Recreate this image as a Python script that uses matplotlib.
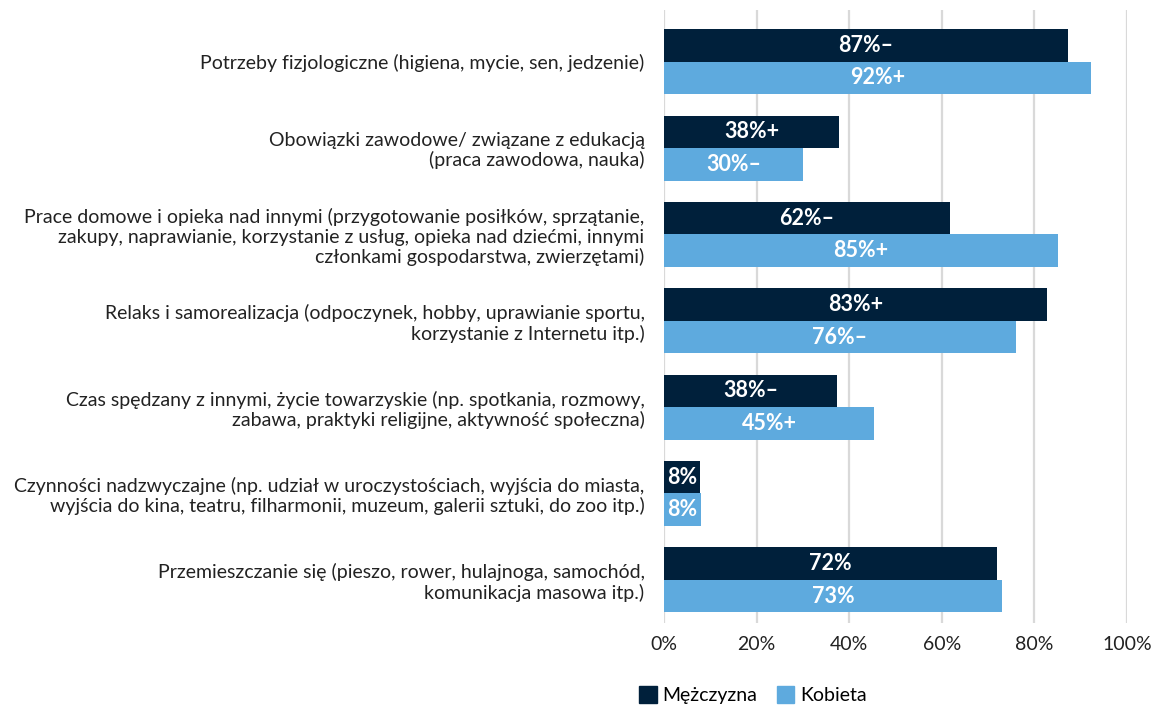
import numpy as np
import matplotlib
matplotlib.use("Agg")
import matplotlib.pyplot as plt
from matplotlib.patches import Patch

plt.rcParams['font.family'] = ['Lato', 'DejaVu Sans']

categories = [
    "Potrzeby fizjologiczne (higiena, mycie, sen, jedzenie)",
    "Obowiązki zawodowe/ związane z edukacją\n(praca zawodowa, nauka)",
    "Prace domowe i opieka nad innymi (przygotowanie posiłków, sprzątanie,\n"
    "zakupy, naprawianie, korzystanie z usług, opieka nad dziećmi, innymi\n"
    "członkami gospodarstwa, zwierzętami)",
    "Relaks i samorealizacja (odpoczynek, hobby, uprawianie sportu,\n"
    "korzystanie z Internetu itp.)",
    "Czas spędzany z innymi, życie towarzyskie (np. spotkania, rozmowy,\n"
    "zabawa, praktyki religijne, aktywność społeczna)",
    "Czynności nadzwyczajne (np. udział w uroczystościach, wyjścia do miasta,\n"
    "wyjścia do kina, teatru, filharmonii, muzeum, galerii sztuki, do zoo itp.)",
    "Przemieszczanie się (pieszo, rower, hulajnoga, samochód,\n"
    "komunikacja masowa itp.)",
]
men = [87.2, 37.8, 61.8, 82.8, 37.4, 7.8, 72.0]
women = [92.2, 30.0, 85.0, 76.0, 45.4, 8.0, 73.0]
men_labels = ["87%–", "38%+", "62%–", "83%+", "38%–", "8%", "72%"]
women_labels = ["92%+", "30%–", "85%+", "76%–", "45%+", "8%", "73%"]
series_names = ["Mężczyzna", "Kobieta"]
ticks = [0, 20, 40, 60, 80, 100]

c_men = "#00203b"
c_women = "#5eaade"

fig = plt.figure(figsize=(11.55, 7.09), dpi=100)
ax = fig.add_axes([664 / 1155, 1 - 623 / 709, (1127 - 664) / 1155, (623 - 10) / 709])

y = np.arange(len(categories))
h = 0.375
b1 = ax.barh(y - h / 2, men, height=h, color=c_men, zorder=3)
b2 = ax.barh(y + h / 2, women, height=h, color=c_women, zorder=3)

for bars, labs in ((b1, men_labels), (b2, women_labels)):
    for bar, lab in zip(bars, labs):
        ax.text(bar.get_width() / 2, bar.get_y() + bar.get_height() / 2, lab,
                ha="center", va="center", color="white", fontsize=15.5,
                fontweight="bold", zorder=4)

ax.set_xlim(0, 100)
ax.set_ylim(6.5, -0.6)
ax.set_xticks(ticks)
ax.set_xticklabels([f"{t}%" for t in ticks], fontsize=14, color="#222222")
ax.set_yticks(y)
ax.set_yticklabels(categories, fontsize=14, color="#222222", linespacing=1.15)
ax.tick_params(axis="y", length=0, pad=14)
ax.tick_params(axis="x", length=0, pad=9)
ax.grid(axis="x", color="#d9d9d9", linewidth=1.6, zorder=0)
for s in ax.spines.values():
    s.set_visible(False)

handles = [Patch(color=c_men), Patch(color=c_women)]
fig.legend(handles, series_names, loc="lower center", bbox_to_anchor=(0.652, -0.018),
           ncol=2, frameon=False, fontsize=14, handlelength=0.9, handleheight=0.9,
           handletextpad=0.3, columnspacing=1.0)

fig.savefig("out.png", dpi=100)
